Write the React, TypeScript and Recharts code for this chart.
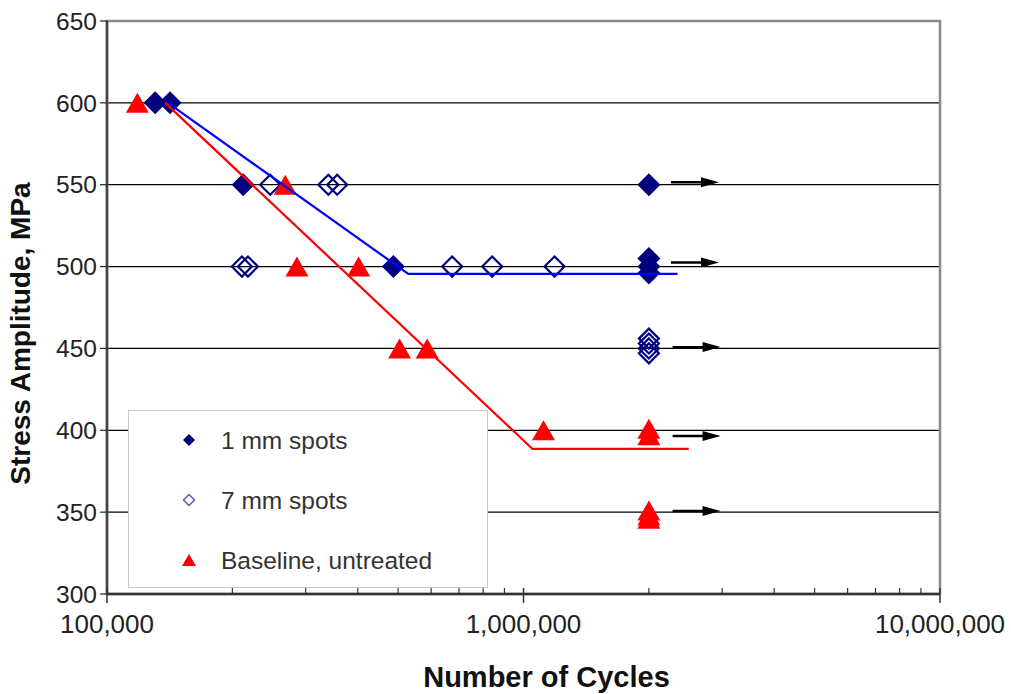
import * as React from "react";
import {
  ScatterChart,
  Scatter,
  XAxis,
  YAxis,
  CartesianGrid,
  ReferenceArea,
  Legend,
} from "recharts";

// S-N data (cycles, MPa)
const ONE_MM = [
  { x: 130500, y: 600 },
  { x: 141700, y: 600 },
  { x: 212300, y: 550 },
  { x: 487000, y: 500 },
  { x: 2000000, y: 550 },
  { x: 2000000, y: 505 },
  { x: 2000000, y: 500 },
  { x: 2000000, y: 496 },
];

const SEVEN_MM = [
  { x: 246500, y: 550 },
  { x: 340000, y: 550 },
  { x: 357000, y: 550 },
  { x: 210800, y: 500 },
  { x: 218000, y: 500 },
  { x: 674000, y: 500 },
  { x: 841000, y: 500 },
  { x: 1187000, y: 500 },
  { x: 2000000, y: 456 },
  { x: 2000000, y: 453 },
  { x: 2000000, y: 450 },
  { x: 2000000, y: 447 },
];

const BASELINE = [
  { x: 118300, y: 600 },
  { x: 267900, y: 550 },
  { x: 285800, y: 500 },
  { x: 402000, y: 500 },
  { x: 504000, y: 450 },
  { x: 587000, y: 450 },
  { x: 1117000, y: 400 },
  { x: 2000000, y: 401 },
  { x: 2000000, y: 397 },
  { x: 2000000, y: 351 },
  { x: 2000000, y: 348 },
  { x: 2000000, y: 346 },
];

// fitted curves
const FIT_1MM = [
  { x: 140000, y: 600 },
  { x: 529000, y: 495.5 },
  { x: 2344000, y: 495.5 },
];
const FIT_BASE = [
  { x: 138000, y: 600 },
  { x: 1051000, y: 388.6 },
  { x: 2493000, y: 388.6 },
];

// run-out arrows (start point of each arrow)
const RUNOUTS = [
  { x: 2260000, y: 551.5 },
  { x: 2260000, y: 502.5 },
  { x: 2280000, y: 450.8 },
  { x: 2280000, y: 396.5 },
  { x: 2280000, y: 350.7 },
];

const X_MAJOR = [100000, 1000000, 10000000];
const X_MINOR = [
  200000, 300000, 400000, 500000, 600000, 700000, 800000, 900000,
  2000000, 3000000, 4000000, 5000000, 6000000, 7000000, 8000000, 9000000,
];
const Y_TICKS = [300, 350, 400, 450, 500, 550, 600, 650];

const LEGEND_ITEMS = [
  { label: "1 mm spots", kind: "filled" },
  { label: "7 mm spots", kind: "open" },
  { label: "Baseline, untreated", kind: "triangle" },
];

const FONT = '"Liberation Sans", Arial, sans-serif';
const NAVY = "#000080";
const RED = "#ff0000";

const FilledDiamond = (p: any) => {
  const { cx, cy } = p;
  return (
    <polygon
      points={`${cx},${cy - 11.5} ${cx + 11.5},${cy} ${cx},${cy + 11.5} ${cx - 11.5},${cy}`}
      fill={NAVY}
    />
  );
};

const OpenDiamond = (p: any) => {
  const { cx, cy } = p;
  return (
    <polygon
      points={`${cx},${cy - 10} ${cx + 10},${cy} ${cx},${cy + 10} ${cx - 10},${cy}`}
      fill="#fff"
      fillOpacity={0}
      stroke={NAVY}
      strokeWidth={2.2}
    />
  );
};

const Triangle = (p: any) => {
  const { cx, cy } = p;
  return (
    <polygon
      points={`${cx},${cy - 10} ${cx + 11.5},${cy + 10} ${cx - 11.5},${cy + 10}`}
      fill={RED}
    />
  );
};

const Arrow = (p: any) => {
  const { cx, cy } = p;
  return (
    <g>
      <line x1={cx} y1={cy} x2={cx + 32} y2={cy} stroke="#000" strokeWidth={2.4} />
      <polygon
        points={`${cx + 30},${cy - 5} ${cx + 48},${cy} ${cx + 30},${cy + 5}`}
        fill="#000"
      />
    </g>
  );
};

const NoDot = () => <g />;

const XTick = (p: any) => {
  const { x, y, payload } = p;
  const major = X_MAJOR.includes(payload.value);
  if (!major) {
    return <line x1={x} x2={x} y1={y - 6} y2={y} stroke="#333" strokeWidth={1.2} />;
  }
  return (
    <g>
      <line x1={x} x2={x} y1={y - 6} y2={y + 9} stroke="#333" strokeWidth={1.5} />
      <text
        x={x}
        y={y + 39}
        textAnchor="middle"
        fontSize={26}
        fontFamily={FONT}
        fill="#222"
      >
        {payload.value.toLocaleString("en-US")}
      </text>
    </g>
  );
};

const XTitle = (p: any) => {
  const vb = p.viewBox || { x: 107, y: 594, width: 833 };
  return (
    <text
      x={vb.x + vb.width / 2 + 23}
      y={vb.y + 93}
      textAnchor="middle"
      fontSize={29}
      fontWeight="bold"
      fontFamily={FONT}
      fill="#111"
    >
      Number of Cycles
    </text>
  );
};

const YTitle = (p: any) => {
  const vb = p.viewBox || { x: 0, y: 21, height: 573 };
  const cx = 20;
  const cy = vb.y + vb.height / 2 + 26;
  return (
    <text
      x={cx}
      y={cy}
      transform={`rotate(-90 ${cx} ${cy})`}
      textAnchor="middle"
      dominantBaseline="central"
      fontSize={28}
      fontWeight="bold"
      fontFamily={FONT}
      fill="#111"
    >
      Stress Amplitude, MPa
    </text>
  );
};

const LegendMarker = ({ kind, cx, cy }: { kind: string; cx: number; cy: number }) => {
  if (kind === "filled")
    return (
      <polygon
        points={`${cx},${cy - 6} ${cx + 6},${cy} ${cx},${cy + 6} ${cx - 6},${cy}`}
        fill={NAVY}
      />
    );
  if (kind === "open")
    return (
      <polygon
        points={`${cx},${cy - 5.5} ${cx + 5.5},${cy} ${cx},${cy + 5.5} ${cx - 5.5},${cy}`}
        fill="none"
        stroke="#5050b0"
        strokeWidth={1.4}
      />
    );
  return (
    <polygon
      points={`${cx},${cy - 6} ${cx + 7},${cy + 6} ${cx - 7},${cy + 6}`}
      fill={RED}
    />
  );
};

const LegendBox = () => (
  <svg width={360} height={178} style={{ display: "block" }}>
    <rect x={0.5} y={0.5} width={359} height={177} fill="#fff" stroke="#c8c8c8" />
    {LEGEND_ITEMS.map((it, i) => {
      const cy = 30 + i * 60;
      return (
        <g key={it.label}>
          <LegendMarker kind={it.kind} cx={61} cy={cy} />
          <text
            x={93}
            y={cy + 8.5}
            fontSize={24.5}
            fontFamily={FONT}
            fill="#333"
          >
            {it.label}
          </text>
        </g>
      );
    })}
  </svg>
);

export default function App() {
  return (
    <div style={{ position: "absolute", left: 0, top: 0, background: "#fff" }}>
      <ScatterChart
        width={1011}
        height={694}
        margin={{ top: 21, right: 71, bottom: 0, left: 0 }}
        style={{ fontFamily: FONT }}
      >
        <CartesianGrid vertical={false} stroke="#000" strokeWidth={1.2} strokeOpacity={1} />
        <ReferenceArea
          x1={100000}
          x2={10000000}
          y1={300}
          y2={650}
          fill="none"
          fillOpacity={0}
          stroke="#8a8a8a"
          strokeWidth={2.5}
          strokeOpacity={1}
        />
        <XAxis
          type="number"
          dataKey="x"
          scale="log"
          domain={[100000, 10000000]}
          ticks={[...X_MAJOR, ...X_MINOR]}
          interval={0}
          allowDataOverflow
          height={100}
          tickSize={0}
          tickMargin={0}
          tickLine={false}
          tick={<XTick />}
          axisLine={{ stroke: "#333", strokeWidth: 2.5 }}
          label={<XTitle />}
        />
        <YAxis
          type="number"
          dataKey="y"
          domain={[300, 650]}
          ticks={Y_TICKS}
          interval={0}
          width={107}
          tickSize={7}
          tickMargin={3}
          tickLine={{ stroke: "#222", strokeWidth: 1.2 }}
          tick={{ fontSize: 24.5, fill: "#222", fontFamily: FONT }}
          axisLine={{ stroke: "#444", strokeWidth: 2.5 }}
          label={<YTitle />}
        />
        <Legend
          layout="horizontal"
          verticalAlign="middle"
          align="center"
          content={<LegendBox />}
          wrapperStyle={{ left: 128, top: 410, width: 360, height: 178 }}
        />
        <Scatter name="1 mm spots" data={ONE_MM} shape={<FilledDiamond />} isAnimationActive={false} />
        <Scatter name="7 mm spots" data={SEVEN_MM} shape={<OpenDiamond />} isAnimationActive={false} />
        <Scatter name="Baseline, untreated" data={BASELINE} shape={<Triangle />} isAnimationActive={false} />
        <Scatter
          name="fit 1 mm"
          data={FIT_1MM}
          line={{ stroke: "#0000ff", strokeWidth: 2.2 }}
          shape={<NoDot />}
          legendType="none"
          isAnimationActive={false}
        />
        <Scatter
          name="fit baseline"
          data={FIT_BASE}
          line={{ stroke: RED, strokeWidth: 2.2 }}
          shape={<NoDot />}
          legendType="none"
          isAnimationActive={false}
        />
        <Scatter
          name="run-out"
          data={RUNOUTS}
          shape={<Arrow />}
          legendType="none"
          isAnimationActive={false}
        />
      </ScatterChart>
    </div>
  );
}
